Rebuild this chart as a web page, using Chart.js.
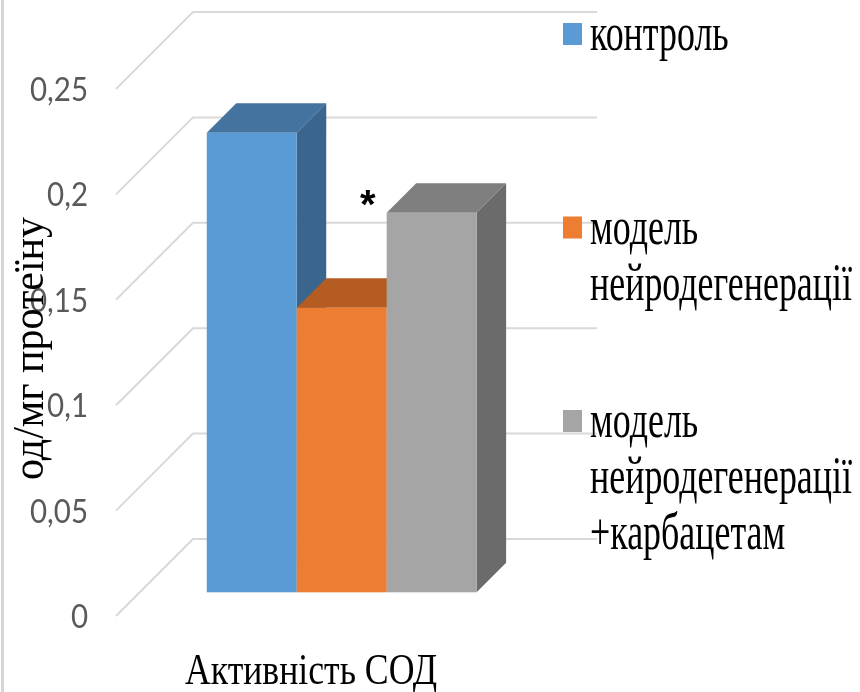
<!DOCTYPE html>
<html>
<head>
<meta charset="utf-8">
<script src="https://cdn.jsdelivr.net/npm/chart.js@4.4.1/dist/chart.umd.min.js"></script>
<style>
  html, body { margin: 0; padding: 0; background: #ffffff; }
  #wrap { width: 860px; height: 692px; position: relative; }
</style>
</head>
<body>
<div id="wrap"><canvas id="chart"></canvas></div>
<script>
// ---- data ----
const categories = ['Активність СОД'];
const seriesNames = ['контроль', 'модель\nнейродегенерації', 'модель\nнейродегенерації\n+карбацетам'];
const controlValues = [0.218];
const modelValues = [0.135];
const modelCarbacetamValues = [0.180];
const significanceMarks = ['', '', '*'];
const tickValues = [0, 0.05, 0.1, 0.15, 0.2, 0.25];
const tickLabels = ['0', '0,05', '0,1', '0,15', '0,2', '0,25'];
const yAxisTitle = 'од/мг протеїну';

// ---- styles ----
const frontColors = ['#5b9bd5', '#ed7d31', '#a5a5a5'];
const topColors   = ['#44739f', '#b45c22', '#7f7f7f'];
const sideColors  = ['#3a658c', '#a35420', '#6b6b6b'];
const GRID_COLOR = '#d9d9d9';
const DEPTH = 77;        // floor depth of the 3D box (45 degree projection)
const BAR_FRONT = 23.7;  // gap between floor front edge and bar front face
const BAR_DEPTH = 29.5;  // depth of each bar
const SERIF = '"Liberation Serif", "Times New Roman", serif';

function poly(ctx, pts, color) {
  ctx.beginPath();
  ctx.moveTo(pts[0][0], pts[0][1]);
  for (let i = 1; i < pts.length; i++) ctx.lineTo(pts[i][0], pts[i][1]);
  ctx.closePath();
  ctx.fillStyle = color;
  ctx.fill();
}

// text squeezed horizontally with a given scale
function drawScaled(ctx, text, x, y, sx, align) {
  ctx.save();
  ctx.translate(x, y);
  ctx.scale(sx, 1);
  ctx.textAlign = align;
  ctx.fillText(text, 0, 0);
  ctx.restore();
}

// 3D walls, gridlines and boxes
const box3d = {
  id: 'box3d',
  beforeDatasetsDraw(chart) {
    const { ctx, chartArea: a, scales: { y } } = chart;
    ctx.save();
    ctx.strokeStyle = GRID_COLOR;
    ctx.lineWidth = 2;
    tickValues.forEach(v => {
      const yf = y.getPixelForValue(v);
      ctx.beginPath();
      ctx.moveTo(a.left, yf);
      ctx.lineTo(a.left + DEPTH, yf - DEPTH);
      ctx.lineTo(a.right + DEPTH, yf - DEPTH);
      ctx.stroke();
    });
    chart.data.datasets.forEach((ds, i) => {
      const meta = chart.getDatasetMeta(i);
      meta.data.forEach(bar => {
        const p = bar.getProps(['x', 'y', 'base', 'width'], true);
        const l = p.x - p.width / 2 + BAR_FRONT;
        const r = p.x + p.width / 2 + BAR_FRONT;
        const t = p.y - BAR_FRONT;
        const b = p.base - BAR_FRONT;
        const d = BAR_DEPTH;
        poly(ctx, [[r, t], [r + d, t - d], [r + d, b - d], [r, b]], sideColors[i]);
        poly(ctx, [[l, t], [r, t], [r + d, t - d], [l + d, t - d]], topColors[i]);
        ctx.fillStyle = frontColors[i];
        ctx.fillRect(l, t, r - l, b - t);
      });
    });
    ctx.restore();
    return false;
  }
};

// axis labels, legend and marks
const labels3d = {
  id: 'labels3d',
  afterDraw(chart) {
    const { ctx, chartArea: a, scales: { x, y } } = chart;
    ctx.save();

    // outer frame edge
    ctx.strokeStyle = '#d6d6d6';
    ctx.lineWidth = 3;
    ctx.beginPath();
    ctx.moveTo(2.5, 0);
    ctx.lineTo(2.5, chart.height);
    ctx.stroke();

    // value ticks
    ctx.fillStyle = '#595959';
    ctx.font = '33px Lato, "Liberation Sans", sans-serif';
    const tickScale = 58 / ctx.measureText('0,25').width;
    tickValues.forEach((v, i) => {
      drawScaled(ctx, tickLabels[i], a.left - 28, y.getPixelForValue(v) + 12, tickScale, 'right');
    });

    // value axis title
    ctx.fillStyle = '#000000';
    ctx.font = '44px ' + SERIF;
    const ytScale = 263 / ctx.measureText(yAxisTitle).width;
    ctx.save();
    ctx.translate(43, (a.top + a.bottom) / 2 - 4);
    ctx.rotate(-Math.PI / 2);
    drawScaled(ctx, yAxisTitle, 0, 0, ytScale, 'center');
    ctx.restore();

    // category label
    ctx.font = '44px ' + SERIF;
    const catScale = 252 / ctx.measureText(categories[0]).width;
    drawScaled(ctx, categories[0], x.getPixelForValue(0) - 7, a.bottom + 68, catScale, 'center');

    // significance marks
    ctx.font = 'bold 40px "Liberation Sans", Arial, sans-serif';
    chart.data.datasets.forEach((ds, i) => {
      if (!significanceMarks[i]) return;
      chart.getDatasetMeta(i).data.forEach(bar => {
        const p = bar.getProps(['x', 'y', 'width'], true);
        const cx = p.x - p.width / 2 + BAR_FRONT - 19;
        const cy = p.y - BAR_FRONT - 18;
        ctx.textAlign = 'center';
        ctx.fillText(significanceMarks[i], cx, cy + 23);
      });
    });

    // legend
    ctx.font = '52px ' + SERIF;
    const legScale = 262 / ctx.measureText('нейродегенерації').width;
    const lineH = 56;
    chart.data.datasets.forEach((ds, i) => {
      const lines = ds.label.split('\n');
      const center = 38 + i * 221.5;
      const first = center + 12 - (lines.length - 1) * lineH / 2;
      ctx.fillStyle = frontColors[i];
      ctx.fillRect(563, first - 27, 19, 22);
      ctx.fillStyle = '#000000';
      lines.forEach((ln, k) => drawScaled(ctx, ln, 590, first + k * lineH, legScale, 'left'));
    });

    ctx.restore();
  }
};

const seriesValues = [controlValues, modelValues, modelCarbacetamValues];

new Chart(document.getElementById('chart'), {
  type: 'bar',
  data: {
    labels: categories,
    datasets: seriesNames.map((name, i) => ({
      label: name,
      data: seriesValues[i],
      backgroundColor: frontColors[i],
      categoryPercentage: 0.668,
      barPercentage: 1.0
    }))
  },
  options: {
    responsive: true,
    maintainAspectRatio: false,
    animation: false,
    layout: { padding: { left: 116, top: 89, right: 340, bottom: 76 } },
    scales: {
      x: { display: false },
      y: { display: false, min: 0, max: 0.25 }
    },
    plugins: {
      legend: { display: false },
      tooltip: { enabled: false },
      title: { display: false }
    }
  },
  plugins: [box3d, labels3d]
});
</script>
</body>
</html>
